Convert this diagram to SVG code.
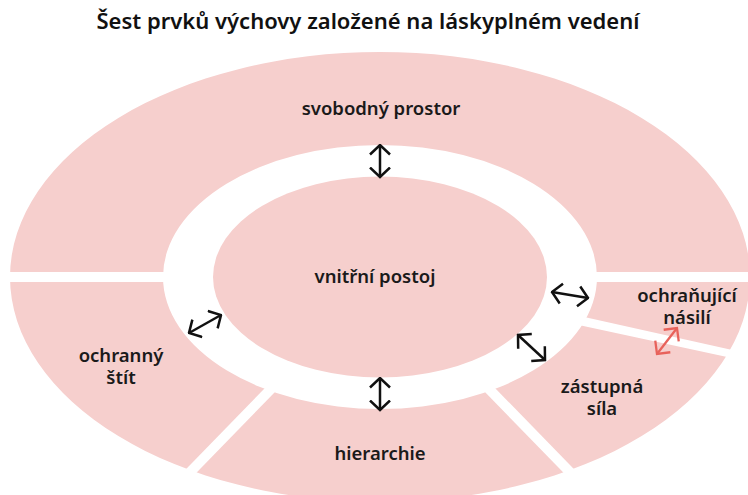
<svg xmlns="http://www.w3.org/2000/svg" width="748" height="495" viewBox="0 0 748 495">
<style>
.seg{fill:#f6cfcd}
.lbl{font-family:"Noto Sans","Open Sans",sans-serif;font-weight:600;font-size:18.5px;fill:#1a1a1a;text-anchor:middle}
.ttl{font-family:"Noto Sans","Open Sans",sans-serif;font-weight:600;font-size:22px;fill:#111;text-anchor:middle}
.arr{fill:none;stroke:#111;stroke-width:2.5;marker-start:url(#ah);marker-end:url(#ah)}
.arr-red{fill:none;stroke:#e8625b;stroke-width:2.3;marker-start:url(#ahr);marker-end:url(#ahr)}
</style>
<defs>
<clipPath id="ring">
<path clip-rule="evenodd" d="M10,277 A370,225 0 1 0 750,277 A370,225 0 1 0 10,277 Z M163,277 A217,132 0 1 0 597,277 A217,132 0 1 0 163,277 Z"/>
</clipPath>
<marker id="ah" viewBox="0 0 12 24" refX="10.5" refY="12" markerWidth="12" markerHeight="24" markerUnits="userSpaceOnUse" orient="auto-start-reverse">
<path d="M1,2 L10.5,12 L1,22" fill="none" stroke="#111" stroke-width="2.5" stroke-linejoin="miter"/>
</marker>
<marker id="ahr" viewBox="0 0 12 24" refX="10.5" refY="12" markerWidth="12" markerHeight="24" markerUnits="userSpaceOnUse" orient="auto-start-reverse">
<path d="M1,2.5 L10.5,12 L1,21.5" fill="none" stroke="#e8625b" stroke-width="2.3"/>
</marker>
</defs>
<rect width="748" height="495" fill="#fff"/>
<text class="ttl" x="368" y="29">Šest prvků výchovy založené na láskyplném vedení</text>
<g clip-path="url(#ring)">
<g id="svobodny-prostor">
<polygon class="seg" points="-20,-20 770,-20 770,272 -20,272"/>
</g>
<g id="ochranujici-nasili">
<polygon class="seg" points="426.9,282 770,282 770,358.5"/>
</g>
<g id="zastupna-sila">
<polygon class="seg" points="395.1,285.4 800,372.6 800,520 623.5,520"/>
</g>
<g id="hierarchie">
<polygon class="seg" points="380,284.2 609.6,520 150.4,520"/>
</g>
<g id="ochranny-stit">
<polygon class="seg" points="368.15,282 136.5,520 -20,520 -20,282"/>
</g>
</g>
<g id="vnitrni-postoj">
<ellipse class="seg" cx="380" cy="277" rx="167" ry="100.5"/>
</g>
<g id="labels">
<text class="lbl" x="381" y="115">svobodný prostor</text>
<text class="lbl" x="375" y="283">vnitřní postoj</text>
<text class="lbl" x="121" y="362">ochranný</text>
<text class="lbl" x="121" y="384">štít</text>
<text class="lbl" x="380" y="460">hierarchie</text>
<text class="lbl" x="602" y="393">zástupná</text>
<text class="lbl" x="602" y="415">síla</text>
<text class="lbl" x="687" y="302">ochraňující</text>
<text class="lbl" x="687" y="324">násilí</text>
</g>
<g id="connectors">
<line class="arr" x1="380" y1="145" x2="380" y2="177"/>
<line class="arr" x1="380" y1="378" x2="380" y2="410"/>
<line class="arr" x1="189" y1="333" x2="221" y2="315"/>
<line class="arr" x1="552" y1="292" x2="588" y2="298"/>
<line class="arr" x1="518" y1="335" x2="545" y2="360"/>
<line class="arr-red" x1="657" y1="354" x2="677" y2="328"/>
</g>
</svg>
